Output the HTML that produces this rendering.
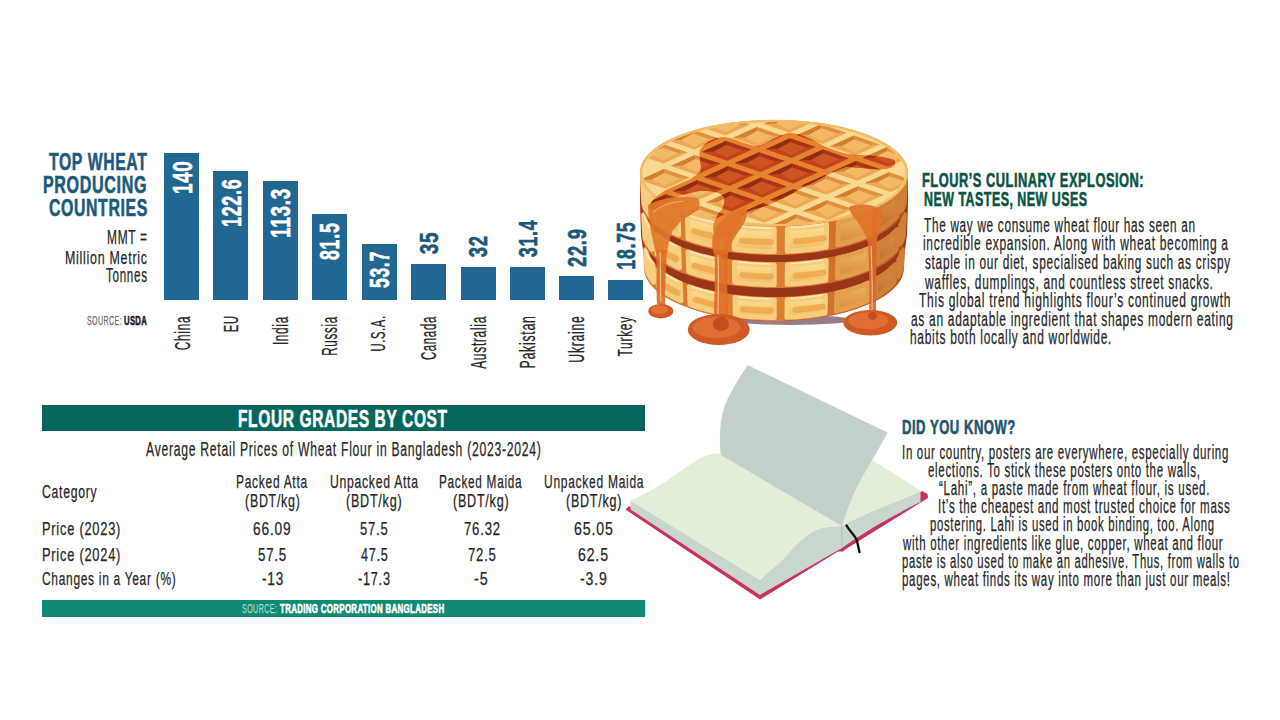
<!DOCTYPE html>
<html><head><meta charset="utf-8"><title>Wheat Flour</title>
<style>
html,body{margin:0;padding:0;background:#fff;}
body{width:1280px;height:720px;position:relative;overflow:hidden;font-family:"Liberation Sans",sans-serif;}
.t{position:absolute;white-space:pre;transform-origin:0 0;}
.bar{position:absolute;width:35px;background:#206892;}
.hdr{position:absolute;left:42px;top:405px;width:602.5px;height:26.3px;background:#05665c;}
.src{position:absolute;left:42px;top:600px;width:602.5px;height:16.7px;background:#108a72;}
svg{position:absolute;left:0;top:0;}
</style></head><body>
<svg width="1280" height="720" viewBox="0 0 1280 720" style="position:absolute;left:0;top:0">
<defs>
<linearGradient id="sideg" x1="640" x2="910" y1="0" y2="0" gradientUnits="userSpaceOnUse">
<stop offset="0" stop-color="#d9792c"/><stop offset="0.5" stop-color="#e0802e"/><stop offset="0.85" stop-color="#c8652a"/><stop offset="1" stop-color="#a84a20"/></linearGradient>
<linearGradient id="lobeg" x1="0" x2="0" y1="0" y2="1">
<stop offset="0" stop-color="#fde3a0"/><stop offset="0.5" stop-color="#f9cf78"/><stop offset="1" stop-color="#f2b85c"/></linearGradient>
<linearGradient id="lobegR" x1="0" x2="0" y1="0" y2="1">
<stop offset="0" stop-color="#f0b862"/><stop offset="1" stop-color="#d7893e"/></linearGradient>
<linearGradient id="lobegRR" x1="0" x2="0" y1="0" y2="1">
<stop offset="0" stop-color="#dc9448"/><stop offset="1" stop-color="#bf6a30"/></linearGradient>
<clipPath id="topclip"><ellipse cx="774" cy="173" rx="131" ry="51"/></clipPath>
</defs>
<ellipse cx="790" cy="320" rx="62" ry="5" fill="#7d5a66" opacity="0.8"/>
<polygon points="640.0,173.0 640.4,168.8 641.6,164.7 643.7,160.6 646.6,156.6 650.2,152.7 654.6,148.9 659.7,145.3 665.6,141.8 672.1,138.6 679.2,135.5 687.0,132.7 695.2,130.1 704.0,127.8 713.2,125.8 722.7,124.0 732.6,122.6 742.7,121.5 753.0,120.7 763.5,120.2 774.0,120.0 784.5,120.2 795.0,120.7 805.3,121.5 815.4,122.6 825.3,124.0 834.8,125.8 844.0,127.8 852.8,130.1 861.0,132.7 868.8,135.5 875.9,138.6 882.4,141.8 888.3,145.3 893.4,148.9 897.8,152.7 901.4,156.6 904.3,160.6 906.4,164.7 907.6,168.8 908.0,173.0 908.0,202.0 907.0,235.0 905.0,250.0 898.9,279.6 897.2,282.3 895.2,285.1 892.8,287.8 890.0,290.4 886.9,293.0 883.5,295.4 879.8,297.8 875.7,300.2 871.4,302.4 866.8,304.5 861.9,306.5 856.7,308.5 851.3,310.2 845.7,311.9 839.8,313.4 833.8,314.9 827.6,316.1 821.3,317.3 814.8,318.2 808.2,319.1 801.4,319.8 794.7,320.3 787.8,320.7 780.9,320.9 774.0,321.0 767.1,320.9 760.2,320.7 753.3,320.3 746.6,319.8 739.8,319.1 733.2,318.2 726.7,317.3 720.4,316.1 714.2,314.9 708.2,313.4 702.3,311.9 696.7,310.2 691.3,308.5 686.1,306.5 681.2,304.5 676.6,302.4 672.3,300.2 668.2,297.8 664.5,295.4 661.1,293.0 658.0,290.4 655.2,287.8 652.8,285.1 650.8,282.3 649.1,279.6 643.0,250.0 641.0,235.0 640.0,202.0" fill="#9a3618"/>
<polygon points="905.0,244.0 904.7,247.3 904.0,250.6 902.7,253.9 900.9,257.2 898.6,260.4 895.8,263.5 892.5,266.6 888.8,269.5 884.6,272.4 880.0,275.2 874.9,277.8 869.5,280.3 863.7,282.6 857.5,284.8 851.0,286.9 844.2,288.7 837.1,290.4 829.8,292.0 822.2,293.3 814.5,294.4 806.6,295.3 798.5,296.1 790.4,296.6 782.2,296.9 774.0,297.0 765.8,296.9 757.6,296.6 749.5,296.1 741.4,295.3 733.5,294.4 725.8,293.3 718.2,292.0 710.9,290.4 703.8,288.7 697.0,286.9 690.5,284.8 684.3,282.6 678.5,280.3 673.1,277.8 668.0,275.2 663.4,272.4 659.2,269.5 655.5,266.6 652.2,263.5 649.4,260.4 647.1,257.2 645.3,253.9 644.0,250.6 643.3,247.3 643.0,244.0 644.0,268.0 644.3,271.3 645.0,274.6 646.3,277.9 648.1,281.2 650.4,284.4 653.1,287.5 656.4,290.6 660.1,293.5 664.2,296.4 668.8,299.2 673.8,301.8 679.2,304.3 685.0,306.6 691.1,308.8 697.6,310.9 704.3,312.7 711.4,314.4 718.6,316.0 726.1,317.3 733.8,318.4 741.7,319.3 749.6,320.1 757.7,320.6 765.8,320.9 774.0,321.0 782.2,320.9 790.3,320.6 798.4,320.1 806.3,319.3 814.2,318.4 821.9,317.3 829.4,316.0 836.6,314.4 843.7,312.7 850.4,310.9 856.9,308.8 863.0,306.6 868.8,304.3 874.2,301.8 879.2,299.2 883.8,296.4 887.9,293.5 891.6,290.6 894.9,287.5 897.6,284.4 899.9,281.2 901.7,277.9 903.0,274.6 903.7,271.3 904.0,268.0" fill="url(#sideg)"/>
<polygon points="902.3,249.6 902.2,250.5 902.1,251.3 901.9,252.1 901.7,253.0 901.4,253.8 901.2,254.6 900.9,255.5 900.5,256.3 900.1,257.1 899.7,257.9 899.3,258.7 898.8,259.5 897.9,277.0 898.3,276.2 898.8,275.4 899.2,274.6 899.5,273.8 899.9,273.0 900.2,272.1 900.4,271.3 900.7,270.5 900.9,269.6 901.1,268.8 901.2,268.0 901.3,267.1" fill="url(#lobegRR)" stroke="#cf8038" stroke-width="5" stroke-linejoin="round"/>
<polygon points="895.2,264.6 894.0,265.9 892.8,267.2 891.5,268.4 890.1,269.7 888.7,270.9 887.1,272.1 885.5,273.3 883.8,274.5 882.1,275.7 880.2,276.8 878.3,277.9 876.4,279.0 875.6,296.5 877.5,295.4 879.4,294.3 881.2,293.2 883.0,292.0 884.7,290.8 886.3,289.6 887.8,288.4 889.2,287.2 890.6,285.9 891.9,284.7 893.1,283.4 894.2,282.1" fill="url(#lobegRR)" stroke="#cf8038" stroke-width="5" stroke-linejoin="round"/>
<polygon points="868.1,283.1 865.8,284.1 863.5,285.0 861.1,286.0 858.6,286.9 856.1,287.8 853.5,288.6 850.8,289.5 848.2,290.3 845.4,291.1 842.6,291.8 839.8,292.5 836.9,293.2 836.4,310.7 839.3,310.0 842.1,309.3 844.9,308.6 847.6,307.8 850.2,307.0 852.9,306.1 855.4,305.3 857.9,304.4 860.4,303.5 862.8,302.5 865.1,301.6 867.4,300.6" fill="url(#lobegR)" stroke="#e0a050" stroke-width="5" stroke-linejoin="round"/>
<polygon points="825.4,295.6 822.4,296.1 819.3,296.6 816.2,297.1 813.0,297.5 809.8,297.9 806.6,298.3 803.4,298.6 800.2,298.9 796.9,299.2 793.6,299.4 790.4,299.6 787.1,299.7 787.0,317.2 790.2,317.1 793.5,316.9 796.7,316.7 800.0,316.4 803.2,316.1 806.4,315.8 809.6,315.4 812.7,315.0 815.8,314.6 818.9,314.1 822.0,313.6 825.0,313.1" fill="url(#lobeg)" stroke="#f6cd80" stroke-width="5" stroke-linejoin="round"/>
<polyline points="821.9,295.2 818.1,295.8 814.3,296.3 810.5,296.8 806.6,297.3 802.7,297.7 798.8,298.0 794.9,298.3 790.9,298.5" fill="none" stroke="#fff0c4" stroke-width="1.6" stroke-linecap="round" opacity="0.75"/>
<polyline points="822.7,306.6 818.2,307.3 813.8,307.9 809.3,308.5 804.7,309.0 800.1,309.4 795.4,309.8" fill="none" stroke="#eba048" stroke-width="6" stroke-linecap="round" opacity="0.7"/>
<polygon points="774.2,300.0 770.9,300.0 767.6,299.9 764.3,299.8 761.0,299.7 757.7,299.6 754.4,299.4 751.1,299.2 747.9,298.9 744.6,298.6 741.4,298.3 738.2,297.9 735.0,297.5 735.3,315.0 738.5,315.4 741.6,315.8 744.8,316.1 748.1,316.4 751.3,316.7 754.5,316.9 757.8,317.1 761.1,317.2 764.4,317.3 767.6,317.4 770.9,317.5 774.2,317.5" fill="url(#lobeg)" stroke="#f6cd80" stroke-width="5" stroke-linejoin="round"/>
<polyline points="770.4,299.0 766.4,298.9 762.4,298.8 758.4,298.6 754.4,298.4 750.4,298.1 746.5,297.8 742.6,297.4 738.7,297.0" fill="none" stroke="#fff0c4" stroke-width="1.6" stroke-linecap="round" opacity="0.75"/>
<polyline points="771.0,310.5 766.3,310.4 761.6,310.3 756.9,310.0 752.2,309.7 747.5,309.4 742.9,308.9" fill="none" stroke="#eba048" stroke-width="6" stroke-linecap="round" opacity="0.7"/>
<polygon points="723.0,295.6 720.0,295.1 717.0,294.5 714.0,293.9 711.1,293.2 708.2,292.5 705.4,291.8 702.6,291.1 699.9,290.3 697.2,289.5 694.6,288.7 692.0,287.8 689.4,286.9 690.1,304.4 692.6,305.3 695.2,306.2 697.8,307.0 700.5,307.8 703.2,308.6 705.9,309.3 708.7,310.0 711.6,310.7 714.5,311.4 717.4,312.0 720.4,312.6 723.4,313.1" fill="url(#lobeg)" stroke="#f6cd80" stroke-width="5" stroke-linejoin="round"/>
<polyline points="719.5,294.0 715.9,293.3 712.3,292.5 708.8,291.7 705.4,290.8 702.0,289.9 698.7,289.0 695.5,288.0 692.4,286.9" fill="none" stroke="#fff0c4" stroke-width="1.6" stroke-linecap="round" opacity="0.75"/>
<polyline points="719.8,305.6 715.6,304.8 711.4,303.8 707.3,302.9 703.3,301.8 699.4,300.7 695.6,299.6" fill="none" stroke="#eba048" stroke-width="6" stroke-linecap="round" opacity="0.7"/>
<polygon points="680.2,283.2 678.0,282.2 675.8,281.2 673.7,280.1 671.6,279.0 669.7,277.9 667.8,276.8 665.9,275.7 664.2,274.5 662.5,273.3 660.9,272.1 659.3,270.9 657.9,269.7 658.8,287.2 660.2,288.4 661.8,289.6 663.4,290.8 665.0,292.0 666.8,293.2 668.6,294.3 670.5,295.4 672.4,296.5 674.5,297.6 676.6,298.7 678.7,299.7 680.9,300.7" fill="url(#lobeg)" stroke="#f6cd80" stroke-width="5" stroke-linejoin="round"/>
<polyline points="677.6,281.1 675.0,279.8 672.5,278.5 670.1,277.2 667.8,275.8 665.6,274.4 663.5,273.0 661.5,271.6 659.6,270.1" fill="none" stroke="#fff0c4" stroke-width="1.6" stroke-linecap="round" opacity="0.75"/>
<polyline points="677.7,292.7 674.6,291.3 671.6,289.8 668.8,288.2 666.2,286.6 663.6,284.9 661.3,283.3" fill="none" stroke="#eba048" stroke-width="6" stroke-linecap="round" opacity="0.7"/>
<polygon points="653.0,264.8 652.0,263.6 651.0,262.3 650.1,261.1 649.3,259.9 648.6,258.6 648.0,257.3 647.4,256.1 646.9,254.8 646.5,253.5 646.1,252.2 645.9,250.9 645.7,249.6 646.7,267.1 646.9,268.4 647.1,269.7 647.5,271.0 647.9,272.3 648.4,273.6 648.9,274.8 649.6,276.1 650.3,277.4 651.1,278.6 652.0,279.8 652.9,281.1 653.9,282.3" fill="url(#lobeg)" stroke="#f6cd80" stroke-width="5" stroke-linejoin="round"/>
<polyline points="651.7,262.3 650.6,260.8 649.6,259.3 648.7,257.8 648.0,256.3 647.3,254.8 646.7,253.3 646.3,251.8 645.9,250.2" fill="none" stroke="#fff0c4" stroke-width="1.6" stroke-linecap="round" opacity="0.75"/>
<polygon points="907.0,209.0 906.7,212.3 906.0,215.6 904.6,218.9 902.8,222.2 900.5,225.4 897.7,228.5 894.3,231.6 890.5,234.5 886.3,237.4 881.6,240.2 876.5,242.8 871.0,245.3 865.0,247.6 858.8,249.8 852.2,251.9 845.3,253.7 838.1,255.4 830.6,257.0 823.0,258.3 815.1,259.4 807.1,260.3 798.9,261.1 790.7,261.6 782.4,261.9 774.0,262.0 765.6,261.9 757.3,261.6 749.1,261.1 740.9,260.3 732.9,259.4 725.0,258.3 717.4,257.0 709.9,255.4 702.7,253.7 695.8,251.9 689.2,249.8 683.0,247.6 677.0,245.3 671.5,242.8 666.4,240.2 661.7,237.4 657.5,234.5 653.7,231.6 650.3,228.5 647.5,225.4 645.2,222.2 643.4,218.9 642.0,215.6 641.3,212.3 641.0,209.0 642.0,235.0 642.3,238.3 643.0,241.6 644.3,244.9 646.1,248.2 648.5,251.4 651.3,254.5 654.6,257.6 658.3,260.5 662.5,263.4 667.2,266.2 672.3,268.8 677.8,271.3 683.6,273.6 689.9,275.8 696.4,277.9 703.3,279.7 710.4,281.4 717.8,283.0 725.4,284.3 733.2,285.4 741.2,286.3 749.3,287.1 757.5,287.6 765.7,287.9 774.0,288.0 782.3,287.9 790.5,287.6 798.7,287.1 806.8,286.3 814.8,285.4 822.6,284.3 830.2,283.0 837.6,281.4 844.7,279.7 851.6,277.9 858.1,275.8 864.4,273.6 870.2,271.3 875.7,268.8 880.8,266.2 885.5,263.4 889.7,260.5 893.4,257.6 896.7,254.5 899.5,251.4 901.9,248.2 903.7,244.9 905.0,241.6 905.7,238.3 906.0,235.0" fill="url(#sideg)"/>
<polygon points="904.3,214.6 904.2,215.5 904.1,216.3 903.9,217.1 903.7,218.0 903.4,218.8 903.1,219.6 902.8,220.5 902.5,221.3 902.1,222.1 901.7,222.9 901.3,223.7 900.8,224.5 899.8,244.0 900.3,243.2 900.7,242.4 901.1,241.6 901.5,240.8 901.8,240.0 902.2,239.1 902.4,238.3 902.7,237.5 902.9,236.6 903.1,235.8 903.2,235.0 903.3,234.1" fill="url(#lobegRR)" stroke="#cf8038" stroke-width="5" stroke-linejoin="round"/>
<polygon points="897.1,229.6 895.9,230.9 894.7,232.2 893.3,233.4 891.9,234.7 890.5,235.9 888.9,237.1 887.3,238.3 885.5,239.5 883.8,240.7 881.9,241.8 880.0,242.9 878.0,244.0 877.2,263.5 879.2,262.4 881.1,261.3 882.9,260.2 884.7,259.0 886.4,257.8 888.0,256.6 889.6,255.4 891.0,254.2 892.4,252.9 893.7,251.7 895.0,250.4 896.1,249.1" fill="url(#lobegRR)" stroke="#cf8038" stroke-width="5" stroke-linejoin="round"/>
<polygon points="869.6,248.1 867.2,249.1 864.9,250.0 862.4,251.0 859.9,251.9 857.3,252.8 854.7,253.6 852.0,254.5 849.3,255.3 846.5,256.1 843.7,256.8 840.8,257.5 837.9,258.2 837.4,277.7 840.3,277.0 843.2,276.3 846.0,275.6 848.7,274.8 851.4,274.0 854.1,273.1 856.7,272.3 859.2,271.4 861.7,270.5 864.2,269.5 866.5,268.6 868.8,267.6" fill="url(#lobegR)" stroke="#e0a050" stroke-width="5" stroke-linejoin="round"/>
<polygon points="826.2,260.6 823.1,261.1 820.0,261.6 816.8,262.1 813.6,262.5 810.4,262.9 807.1,263.3 803.9,263.6 800.6,263.9 797.3,264.2 793.9,264.4 790.6,264.6 787.3,264.7 787.2,284.2 790.5,284.1 793.8,283.9 797.1,283.7 800.4,283.4 803.6,283.1 806.9,282.8 810.1,282.4 813.3,282.0 816.5,281.6 819.6,281.1 822.8,280.6 825.8,280.1" fill="url(#lobeg)" stroke="#f6cd80" stroke-width="5" stroke-linejoin="round"/>
<polyline points="822.6,260.2 818.8,260.8 815.0,261.3 811.1,261.8 807.1,262.3 803.2,262.7 799.2,263.0 795.2,263.3 791.1,263.5" fill="none" stroke="#fff0c4" stroke-width="1.6" stroke-linecap="round" opacity="0.75"/>
<polyline points="823.4,272.6 818.9,273.3 814.4,273.9 809.8,274.5 805.2,275.0 800.5,275.4 795.7,275.8" fill="none" stroke="#eba048" stroke-width="6" stroke-linecap="round" opacity="0.7"/>
<polygon points="774.2,265.0 770.9,265.0 767.5,264.9 764.1,264.8 760.8,264.7 757.4,264.6 754.1,264.4 750.8,264.2 747.5,263.9 744.2,263.6 740.9,263.3 737.6,262.9 734.4,262.5 734.7,282.0 737.9,282.4 741.1,282.8 744.4,283.1 747.7,283.4 750.9,283.7 754.2,283.9 757.6,284.1 760.9,284.2 764.2,284.3 767.5,284.4 770.9,284.5 774.2,284.5" fill="url(#lobeg)" stroke="#f6cd80" stroke-width="5" stroke-linejoin="round"/>
<polyline points="770.3,264.0 766.2,263.9 762.2,263.8 758.1,263.6 754.1,263.4 750.1,263.1 746.1,262.8 742.1,262.4 738.2,262.0" fill="none" stroke="#fff0c4" stroke-width="1.6" stroke-linecap="round" opacity="0.75"/>
<polyline points="771.0,276.5 766.2,276.4 761.4,276.3 756.6,276.0 751.9,275.7 747.1,275.4 742.5,274.9" fill="none" stroke="#eba048" stroke-width="6" stroke-linecap="round" opacity="0.7"/>
<polygon points="722.2,260.6 719.1,260.1 716.1,259.5 713.1,258.9 710.1,258.2 707.2,257.5 704.3,256.8 701.5,256.1 698.7,255.3 696.0,254.5 693.3,253.7 690.7,252.8 688.1,251.9 688.8,271.4 691.3,272.3 693.9,273.2 696.6,274.0 699.3,274.8 702.1,275.6 704.9,276.3 707.7,277.0 710.6,277.7 713.5,278.4 716.5,279.0 719.5,279.6 722.6,280.1" fill="url(#lobeg)" stroke="#f6cd80" stroke-width="5" stroke-linejoin="round"/>
<polyline points="718.6,259.0 715.0,258.3 711.4,257.5 707.8,256.7 704.3,255.8 700.9,254.9 697.6,254.0 694.3,253.0 691.1,251.9" fill="none" stroke="#fff0c4" stroke-width="1.6" stroke-linecap="round" opacity="0.75"/>
<polyline points="719.0,271.6 714.7,270.8 710.4,269.8 706.3,268.9 702.2,267.8 698.3,266.7 694.4,265.6" fill="none" stroke="#eba048" stroke-width="6" stroke-linecap="round" opacity="0.7"/>
<polygon points="678.7,248.2 676.5,247.2 674.3,246.2 672.1,245.1 670.1,244.0 668.0,242.9 666.1,241.8 664.3,240.7 662.5,239.5 660.8,238.3 659.1,237.1 657.6,235.9 656.1,234.7 657.0,254.2 658.4,255.4 660.0,256.6 661.6,257.8 663.3,259.0 665.1,260.2 666.9,261.3 668.9,262.4 670.8,263.5 672.9,264.6 675.0,265.7 677.2,266.7 679.5,267.7" fill="url(#lobeg)" stroke="#f6cd80" stroke-width="5" stroke-linejoin="round"/>
<polyline points="676.1,246.1 673.5,244.8 670.9,243.5 668.5,242.2 666.1,240.8 663.9,239.4 661.7,238.0 659.7,236.6 657.8,235.1" fill="none" stroke="#fff0c4" stroke-width="1.6" stroke-linecap="round" opacity="0.75"/>
<polyline points="676.2,258.7 673.0,257.3 670.1,255.8 667.2,254.2 664.5,252.6 661.9,250.9 659.5,249.3" fill="none" stroke="#eba048" stroke-width="6" stroke-linecap="round" opacity="0.7"/>
<polygon points="651.1,229.8 650.1,228.6 649.1,227.3 648.2,226.1 647.4,224.9 646.7,223.6 646.0,222.3 645.4,221.1 644.9,219.8 644.5,218.5 644.1,217.2 643.9,215.9 643.7,214.6 644.7,234.1 644.9,235.4 645.1,236.7 645.5,238.0 645.9,239.3 646.4,240.6 647.0,241.8 647.6,243.1 648.4,244.4 649.2,245.6 650.1,246.8 651.0,248.1 652.0,249.3" fill="url(#lobeg)" stroke="#f6cd80" stroke-width="5" stroke-linejoin="round"/>
<polyline points="649.8,227.3 648.7,225.8 647.7,224.3 646.8,222.8 646.0,221.3 645.3,219.8 644.7,218.3 644.3,216.8 643.9,215.2" fill="none" stroke="#fff0c4" stroke-width="1.6" stroke-linecap="round" opacity="0.75"/>
<polygon points="908.0,173.0 907.7,176.3 906.9,179.6 905.6,182.9 903.8,186.2 901.4,189.4 898.6,192.5 895.2,195.6 891.4,198.5 887.1,201.4 882.4,204.2 877.2,206.8 871.7,209.3 865.7,211.6 859.4,213.8 852.8,215.9 845.8,217.7 838.6,219.4 831.1,221.0 823.3,222.3 815.4,223.4 807.3,224.3 799.1,225.1 790.8,225.6 782.4,225.9 774.0,226.0 765.6,225.9 757.2,225.6 748.9,225.1 740.7,224.3 732.6,223.4 724.7,222.3 716.9,221.0 709.4,219.4 702.2,217.7 695.2,215.9 688.6,213.8 682.3,211.6 676.3,209.3 670.8,206.8 665.6,204.2 660.9,201.4 656.6,198.5 652.8,195.6 649.4,192.5 646.6,189.4 644.2,186.2 642.4,182.9 641.1,179.6 640.3,176.3 640.0,173.0 641.0,202.0 641.3,205.3 642.0,208.6 643.4,211.9 645.2,215.2 647.5,218.4 650.3,221.5 653.7,224.6 657.5,227.5 661.7,230.4 666.4,233.2 671.5,235.8 677.0,238.3 683.0,240.6 689.2,242.8 695.8,244.9 702.7,246.7 709.9,248.4 717.4,250.0 725.0,251.3 732.9,252.4 740.9,253.3 749.1,254.1 757.3,254.6 765.6,254.9 774.0,255.0 782.4,254.9 790.7,254.6 798.9,254.1 807.1,253.3 815.1,252.4 823.0,251.3 830.6,250.0 838.1,248.4 845.3,246.7 852.2,244.9 858.8,242.8 865.0,240.6 871.0,238.3 876.5,235.8 881.6,233.2 886.3,230.4 890.5,227.5 894.3,224.6 897.7,221.5 900.5,218.4 902.8,215.2 904.6,211.9 906.0,208.6 906.7,205.3 907.0,202.0" fill="url(#sideg)"/>
<polygon points="905.3,178.6 905.2,179.5 905.1,180.3 904.9,181.1 904.7,182.0 904.4,182.8 904.1,183.6 903.8,184.5 903.5,185.3 903.1,186.1 902.7,186.9 902.2,187.7 901.8,188.5 900.8,211.0 901.3,210.2 901.7,209.4 902.1,208.6 902.5,207.8 902.8,207.0 903.1,206.1 903.4,205.3 903.7,204.5 903.9,203.6 904.1,202.8 904.2,202.0 904.3,201.1" fill="url(#lobegRR)" stroke="#cf8038" stroke-width="5" stroke-linejoin="round"/>
<polygon points="898.0,193.6 896.8,194.9 895.6,196.2 894.3,197.4 892.8,198.7 891.4,199.9 889.8,201.1 888.1,202.3 886.4,203.5 884.6,204.7 882.7,205.8 880.8,206.9 878.8,208.0 878.0,230.5 880.0,229.4 881.9,228.3 883.8,227.2 885.5,226.0 887.3,224.8 888.9,223.6 890.5,222.4 891.9,221.2 893.3,219.9 894.7,218.7 895.9,217.4 897.1,216.1" fill="url(#lobegRR)" stroke="#cf8038" stroke-width="5" stroke-linejoin="round"/>
<polygon points="870.3,212.1 868.0,213.1 865.6,214.0 863.1,215.0 860.6,215.9 858.0,216.8 855.3,217.6 852.6,218.5 849.9,219.3 847.1,220.1 844.2,220.8 841.3,221.5 838.4,222.2 837.9,244.7 840.8,244.0 843.7,243.3 846.5,242.6 849.3,241.8 852.0,241.0 854.7,240.1 857.3,239.3 859.9,238.4 862.4,237.5 864.9,236.5 867.2,235.6 869.6,234.6" fill="url(#lobegR)" stroke="#e0a050" stroke-width="5" stroke-linejoin="round"/>
<polygon points="826.6,224.6 823.5,225.1 820.3,225.6 817.1,226.1 813.9,226.5 810.7,226.9 807.4,227.3 804.1,227.6 800.8,227.9 797.5,228.2 794.1,228.4 790.7,228.6 787.4,228.7 787.3,251.2 790.6,251.1 793.9,250.9 797.3,250.7 800.6,250.4 803.9,250.1 807.1,249.8 810.4,249.4 813.6,249.0 816.8,248.6 820.0,248.1 823.1,247.6 826.2,247.1" fill="url(#lobeg)" stroke="#f6cd80" stroke-width="5" stroke-linejoin="round"/>
<polyline points="823.0,224.2 819.2,224.8 815.3,225.3 811.4,225.8 807.4,226.3 803.4,226.7 799.4,227.0 795.3,227.3 791.3,227.5" fill="none" stroke="#fff0c4" stroke-width="1.6" stroke-linecap="round" opacity="0.75"/>
<polyline points="823.8,238.1 819.3,238.8 814.7,239.4 810.1,240.0 805.4,240.5 800.7,240.9 795.9,241.3" fill="none" stroke="#eba048" stroke-width="6" stroke-linecap="round" opacity="0.7"/>
<polygon points="774.2,229.0 770.8,229.0 767.4,228.9 764.1,228.8 760.7,228.7 757.3,228.6 753.9,228.4 750.6,228.2 747.2,227.9 743.9,227.6 740.6,227.3 737.4,226.9 734.1,226.5 734.4,249.0 737.6,249.4 740.9,249.8 744.2,250.1 747.5,250.4 750.8,250.7 754.1,250.9 757.4,251.1 760.8,251.2 764.1,251.3 767.5,251.4 770.9,251.5 774.2,251.5" fill="url(#lobeg)" stroke="#f6cd80" stroke-width="5" stroke-linejoin="round"/>
<polyline points="770.3,228.0 766.2,227.9 762.1,227.8 758.0,227.6 753.9,227.4 749.9,227.1 745.9,226.8 741.9,226.4 737.9,226.0" fill="none" stroke="#fff0c4" stroke-width="1.6" stroke-linecap="round" opacity="0.75"/>
<polyline points="770.9,242.0 766.1,241.9 761.3,241.8 756.5,241.5 751.7,241.2 746.9,240.9 742.2,240.4" fill="none" stroke="#eba048" stroke-width="6" stroke-linecap="round" opacity="0.7"/>
<polygon points="721.8,224.6 718.7,224.1 715.6,223.5 712.6,222.9 709.6,222.2 706.7,221.5 703.8,220.8 700.9,220.1 698.1,219.3 695.4,218.5 692.7,217.7 690.1,216.8 687.5,215.9 688.1,238.4 690.7,239.3 693.3,240.2 696.0,241.0 698.7,241.8 701.5,242.6 704.3,243.3 707.2,244.0 710.1,244.7 713.1,245.4 716.1,246.0 719.1,246.6 722.2,247.1" fill="url(#lobeg)" stroke="#f6cd80" stroke-width="5" stroke-linejoin="round"/>
<polyline points="718.2,223.0 714.5,222.3 710.9,221.5 707.3,220.7 703.8,219.8 700.4,218.9 697.0,218.0 693.7,217.0 690.5,215.9" fill="none" stroke="#fff0c4" stroke-width="1.6" stroke-linecap="round" opacity="0.75"/>
<polyline points="718.6,237.1 714.2,236.3 710.0,235.3 705.8,234.4 701.7,233.3 697.7,232.2 693.8,231.1" fill="none" stroke="#eba048" stroke-width="6" stroke-linecap="round" opacity="0.7"/>
<polygon points="678.0,212.2 675.7,211.2 673.5,210.2 671.3,209.1 669.3,208.0 667.2,206.9 665.3,205.8 663.4,204.7 661.6,203.5 659.9,202.3 658.2,201.1 656.7,199.9 655.2,198.7 656.1,221.2 657.6,222.4 659.1,223.6 660.8,224.8 662.5,226.0 664.3,227.2 666.1,228.3 668.0,229.4 670.1,230.5 672.1,231.6 674.3,232.7 676.5,233.7 678.7,234.7" fill="url(#lobeg)" stroke="#f6cd80" stroke-width="5" stroke-linejoin="round"/>
<polyline points="675.4,210.1 672.7,208.8 670.1,207.5 667.7,206.2 665.3,204.8 663.0,203.4 660.9,202.0 658.8,200.6 656.9,199.1" fill="none" stroke="#fff0c4" stroke-width="1.6" stroke-linecap="round" opacity="0.75"/>
<polyline points="675.4,224.2 672.3,222.8 669.3,221.3 666.4,219.7 663.7,218.1 661.1,216.4 658.6,214.8" fill="none" stroke="#eba048" stroke-width="6" stroke-linecap="round" opacity="0.7"/>
<polygon points="650.1,193.8 649.1,192.6 648.1,191.3 647.2,190.1 646.4,188.9 645.7,187.6 645.0,186.3 644.4,185.1 643.9,183.8 643.5,182.5 643.1,181.2 642.9,179.9 642.7,178.6 643.7,201.1 643.9,202.4 644.1,203.7 644.5,205.0 644.9,206.3 645.4,207.6 646.0,208.8 646.7,210.1 647.4,211.4 648.2,212.6 649.1,213.8 650.1,215.1 651.1,216.3" fill="url(#lobeg)" stroke="#f6cd80" stroke-width="5" stroke-linejoin="round"/>
<polyline points="648.9,191.3 647.7,189.8 646.7,188.3 645.8,186.8 645.0,185.3 644.3,183.8 643.8,182.3 643.3,180.8 642.9,179.2" fill="none" stroke="#fff0c4" stroke-width="1.6" stroke-linecap="round" opacity="0.75"/>
<ellipse cx="774" cy="173" rx="134" ry="53" fill="#f9d892"/>
<ellipse cx="774" cy="173" rx="133" ry="52" fill="none" stroke="#f1bd68" stroke-width="2.5"/>
<g clip-path="url(#topclip)">
<polygon points="637.7,154.7 663.5,163.5 687.7,152.5 661.9,143.7" fill="#eea853"/>
<polygon points="637.7,154.7 661.9,143.7 662.2,147.7 650.2,154.1" fill="#d1802f"/>
<polygon points="661.9,143.7 687.7,152.5 677.7,153.0 662.2,147.7" fill="#df9140"/>
<polygon points="650.2,154.1 662.2,147.7 677.7,153.0 663.2,160.5" fill="#f3b968"/>
<polygon points="668.7,140.7 694.5,149.5 718.7,138.5 692.9,129.7" fill="#eea853"/>
<polygon points="668.7,140.7 692.9,129.7 693.2,133.7 681.2,140.1" fill="#d1802f"/>
<polygon points="692.9,129.7 718.7,138.5 708.7,139.0 693.2,133.7" fill="#df9140"/>
<polygon points="681.2,140.1 693.2,133.7 708.7,139.0 694.2,146.5" fill="#f3b968"/>
<polygon points="699.7,126.7 725.5,135.5 749.7,124.5 723.9,115.7" fill="#eea853"/>
<polygon points="699.7,126.7 723.9,115.7 724.2,119.7 712.2,126.1" fill="#d1802f"/>
<polygon points="723.9,115.7 749.7,124.5 739.7,125.0 724.2,119.7" fill="#df9140"/>
<polygon points="712.2,126.1 724.2,119.7 739.7,125.0 725.2,132.5" fill="#f3b968"/>
<polygon points="639.7,180.0 665.5,188.8 689.7,177.8 663.9,169.0" fill="#eea853"/>
<polygon points="639.7,180.0 663.9,169.0 664.2,173.0 652.2,179.4" fill="#d1802f"/>
<polygon points="663.9,169.0 689.7,177.8 679.7,178.3 664.2,173.0" fill="#df9140"/>
<polygon points="652.2,179.4 664.2,173.0 679.7,178.3 665.2,185.8" fill="#f3b968"/>
<polygon points="670.7,166.0 696.5,174.8 720.7,163.8 694.9,155.0" fill="#eea853"/>
<polygon points="670.7,166.0 694.9,155.0 695.2,159.0 683.2,165.4" fill="#d1802f"/>
<polygon points="694.9,155.0 720.7,163.8 710.7,164.3 695.2,159.0" fill="#df9140"/>
<polygon points="683.2,165.4 695.2,159.0 710.7,164.3 696.2,171.8" fill="#f3b968"/>
<polygon points="701.7,152.0 727.5,160.8 751.7,149.8 725.9,141.0" fill="#eea853"/>
<polygon points="701.7,152.0 725.9,141.0 726.2,145.0 714.2,151.4" fill="#d1802f"/>
<polygon points="725.9,141.0 751.7,149.8 741.7,150.3 726.2,145.0" fill="#df9140"/>
<polygon points="714.2,151.4 726.2,145.0 741.7,150.3 727.2,157.8" fill="#f3b968"/>
<polygon points="732.7,138.0 758.5,146.8 782.7,135.8 756.9,127.0" fill="#eea853"/>
<polygon points="732.7,138.0 756.9,127.0 757.2,131.0 745.2,137.4" fill="#d1802f"/>
<polygon points="756.9,127.0 782.7,135.8 772.7,136.3 757.2,131.0" fill="#df9140"/>
<polygon points="745.2,137.4 757.2,131.0 772.7,136.3 758.2,143.8" fill="#f3b968"/>
<polygon points="763.7,124.0 789.5,132.8 813.7,121.8 787.9,113.0" fill="#eea853"/>
<polygon points="763.7,124.0 787.9,113.0 788.2,117.0 776.2,123.4" fill="#d1802f"/>
<polygon points="787.9,113.0 813.7,121.8 803.7,122.3 788.2,117.0" fill="#df9140"/>
<polygon points="776.2,123.4 788.2,117.0 803.7,122.3 789.2,129.8" fill="#f3b968"/>
<polygon points="641.7,205.3 667.5,214.1 691.7,203.1 665.9,194.3" fill="#eea853"/>
<polygon points="641.7,205.3 665.9,194.3 666.2,198.3 654.2,204.7" fill="#d1802f"/>
<polygon points="665.9,194.3 691.7,203.1 681.7,203.6 666.2,198.3" fill="#df9140"/>
<polygon points="654.2,204.7 666.2,198.3 681.7,203.6 667.2,211.1" fill="#f3b968"/>
<polygon points="672.7,191.3 698.5,200.1 722.7,189.1 696.9,180.3" fill="#eea853"/>
<polygon points="672.7,191.3 696.9,180.3 697.2,184.3 685.2,190.7" fill="#d1802f"/>
<polygon points="696.9,180.3 722.7,189.1 712.7,189.6 697.2,184.3" fill="#df9140"/>
<polygon points="685.2,190.7 697.2,184.3 712.7,189.6 698.2,197.1" fill="#f3b968"/>
<polygon points="703.7,177.3 729.5,186.1 753.7,175.1 727.9,166.3" fill="#eea853"/>
<polygon points="703.7,177.3 727.9,166.3 728.2,170.3 716.2,176.7" fill="#d1802f"/>
<polygon points="727.9,166.3 753.7,175.1 743.7,175.6 728.2,170.3" fill="#df9140"/>
<polygon points="716.2,176.7 728.2,170.3 743.7,175.6 729.2,183.1" fill="#f3b968"/>
<polygon points="734.7,163.3 760.5,172.1 784.7,161.1 758.9,152.3" fill="#eea853"/>
<polygon points="734.7,163.3 758.9,152.3 759.2,156.3 747.2,162.7" fill="#d1802f"/>
<polygon points="758.9,152.3 784.7,161.1 774.7,161.6 759.2,156.3" fill="#df9140"/>
<polygon points="747.2,162.7 759.2,156.3 774.7,161.6 760.2,169.1" fill="#f3b968"/>
<polygon points="765.7,149.3 791.5,158.1 815.7,147.1 789.9,138.3" fill="#eea853"/>
<polygon points="765.7,149.3 789.9,138.3 790.2,142.3 778.2,148.7" fill="#d1802f"/>
<polygon points="789.9,138.3 815.7,147.1 805.7,147.6 790.2,142.3" fill="#df9140"/>
<polygon points="778.2,148.7 790.2,142.3 805.7,147.6 791.2,155.1" fill="#f3b968"/>
<polygon points="796.7,135.3 822.5,144.1 846.7,133.1 820.9,124.3" fill="#eea853"/>
<polygon points="796.7,135.3 820.9,124.3 821.2,128.3 809.2,134.7" fill="#d1802f"/>
<polygon points="820.9,124.3 846.7,133.1 836.7,133.6 821.2,128.3" fill="#df9140"/>
<polygon points="809.2,134.7 821.2,128.3 836.7,133.6 822.2,141.1" fill="#f3b968"/>
<polygon points="674.7,216.6 700.5,225.4 724.7,214.4 698.9,205.6" fill="#eea853"/>
<polygon points="674.7,216.6 698.9,205.6 699.2,209.6 687.2,216.0" fill="#d1802f"/>
<polygon points="698.9,205.6 724.7,214.4 714.7,214.9 699.2,209.6" fill="#df9140"/>
<polygon points="687.2,216.0 699.2,209.6 714.7,214.9 700.2,222.4" fill="#f3b968"/>
<polygon points="705.7,202.6 731.5,211.4 755.7,200.4 729.9,191.6" fill="#eea853"/>
<polygon points="705.7,202.6 729.9,191.6 730.2,195.6 718.2,202.0" fill="#d1802f"/>
<polygon points="729.9,191.6 755.7,200.4 745.7,200.9 730.2,195.6" fill="#df9140"/>
<polygon points="718.2,202.0 730.2,195.6 745.7,200.9 731.2,208.4" fill="#f3b968"/>
<polygon points="736.7,188.6 762.5,197.4 786.7,186.4 760.9,177.6" fill="#eea853"/>
<polygon points="736.7,188.6 760.9,177.6 761.2,181.6 749.2,188.0" fill="#d1802f"/>
<polygon points="760.9,177.6 786.7,186.4 776.7,186.9 761.2,181.6" fill="#df9140"/>
<polygon points="749.2,188.0 761.2,181.6 776.7,186.9 762.2,194.4" fill="#f3b968"/>
<polygon points="767.7,174.6 793.5,183.4 817.7,172.4 791.9,163.6" fill="#eea853"/>
<polygon points="767.7,174.6 791.9,163.6 792.2,167.6 780.2,174.0" fill="#d1802f"/>
<polygon points="791.9,163.6 817.7,172.4 807.7,172.9 792.2,167.6" fill="#df9140"/>
<polygon points="780.2,174.0 792.2,167.6 807.7,172.9 793.2,180.4" fill="#f3b968"/>
<polygon points="798.7,160.6 824.5,169.4 848.7,158.4 822.9,149.6" fill="#eea853"/>
<polygon points="798.7,160.6 822.9,149.6 823.2,153.6 811.2,160.0" fill="#d1802f"/>
<polygon points="822.9,149.6 848.7,158.4 838.7,158.9 823.2,153.6" fill="#df9140"/>
<polygon points="811.2,160.0 823.2,153.6 838.7,158.9 824.2,166.4" fill="#f3b968"/>
<polygon points="829.7,146.6 855.5,155.4 879.7,144.4 853.9,135.6" fill="#eea853"/>
<polygon points="829.7,146.6 853.9,135.6 854.2,139.6 842.2,146.0" fill="#d1802f"/>
<polygon points="853.9,135.6 879.7,144.4 869.7,144.9 854.2,139.6" fill="#df9140"/>
<polygon points="842.2,146.0 854.2,139.6 869.7,144.9 855.2,152.4" fill="#f3b968"/>
<polygon points="738.7,213.9 764.5,222.7 788.7,211.7 762.9,202.9" fill="#eea853"/>
<polygon points="738.7,213.9 762.9,202.9 763.2,206.9 751.2,213.3" fill="#d1802f"/>
<polygon points="762.9,202.9 788.7,211.7 778.7,212.2 763.2,206.9" fill="#df9140"/>
<polygon points="751.2,213.3 763.2,206.9 778.7,212.2 764.2,219.7" fill="#f3b968"/>
<polygon points="769.7,199.9 795.5,208.7 819.7,197.7 793.9,188.9" fill="#eea853"/>
<polygon points="769.7,199.9 793.9,188.9 794.2,192.9 782.2,199.3" fill="#d1802f"/>
<polygon points="793.9,188.9 819.7,197.7 809.7,198.2 794.2,192.9" fill="#df9140"/>
<polygon points="782.2,199.3 794.2,192.9 809.7,198.2 795.2,205.7" fill="#f3b968"/>
<polygon points="800.7,185.9 826.5,194.7 850.7,183.7 824.9,174.9" fill="#eea853"/>
<polygon points="800.7,185.9 824.9,174.9 825.2,178.9 813.2,185.3" fill="#d1802f"/>
<polygon points="824.9,174.9 850.7,183.7 840.7,184.2 825.2,178.9" fill="#df9140"/>
<polygon points="813.2,185.3 825.2,178.9 840.7,184.2 826.2,191.7" fill="#f3b968"/>
<polygon points="831.7,171.9 857.5,180.7 881.7,169.7 855.9,160.9" fill="#eea853"/>
<polygon points="831.7,171.9 855.9,160.9 856.2,164.9 844.2,171.3" fill="#d1802f"/>
<polygon points="855.9,160.9 881.7,169.7 871.7,170.2 856.2,164.9" fill="#df9140"/>
<polygon points="844.2,171.3 856.2,164.9 871.7,170.2 857.2,177.7" fill="#f3b968"/>
<polygon points="862.7,157.9 888.5,166.7 912.7,155.7 886.9,146.9" fill="#eea853"/>
<polygon points="862.7,157.9 886.9,146.9 887.2,150.9 875.2,157.3" fill="#d1802f"/>
<polygon points="886.9,146.9 912.7,155.7 902.7,156.2 887.2,150.9" fill="#df9140"/>
<polygon points="875.2,157.3 887.2,150.9 902.7,156.2 888.2,163.7" fill="#f3b968"/>
<polygon points="771.7,225.2 797.5,234.0 821.7,223.0 795.9,214.2" fill="#eea853"/>
<polygon points="771.7,225.2 795.9,214.2 796.2,218.2 784.2,224.6" fill="#d1802f"/>
<polygon points="795.9,214.2 821.7,223.0 811.7,223.5 796.2,218.2" fill="#df9140"/>
<polygon points="784.2,224.6 796.2,218.2 811.7,223.5 797.2,231.0" fill="#f3b968"/>
<polygon points="802.7,211.2 828.5,220.0 852.7,209.0 826.9,200.2" fill="#eea853"/>
<polygon points="802.7,211.2 826.9,200.2 827.2,204.2 815.2,210.6" fill="#d1802f"/>
<polygon points="826.9,200.2 852.7,209.0 842.7,209.5 827.2,204.2" fill="#df9140"/>
<polygon points="815.2,210.6 827.2,204.2 842.7,209.5 828.2,217.0" fill="#f3b968"/>
<polygon points="833.7,197.2 859.5,206.0 883.7,195.0 857.9,186.2" fill="#eea853"/>
<polygon points="833.7,197.2 857.9,186.2 858.2,190.2 846.2,196.6" fill="#d1802f"/>
<polygon points="857.9,186.2 883.7,195.0 873.7,195.5 858.2,190.2" fill="#df9140"/>
<polygon points="846.2,196.6 858.2,190.2 873.7,195.5 859.2,203.0" fill="#f3b968"/>
<polygon points="864.7,183.2 890.5,192.0 914.7,181.0 888.9,172.2" fill="#eea853"/>
<polygon points="864.7,183.2 888.9,172.2 889.2,176.2 877.2,182.6" fill="#d1802f"/>
<polygon points="888.9,172.2 914.7,181.0 904.7,181.5 889.2,176.2" fill="#df9140"/>
<polygon points="877.2,182.6 889.2,176.2 904.7,181.5 890.2,189.0" fill="#f3b968"/>
</g>
<defs>
<clipPath id="syclip"><path d="M700,150 C705,142 715,137 724,137 C735,138 748,146 758,146 C768,144 778,134 790,133 C803,133 815,142 826,147 C836,151 845,154 856,155 C870,155 885,157 894,160 C897,164 895,168 886,169 C872,170 858,167 846,167 C836,170 826,176 812,183 C798,190 785,197 773,203 C762,208 752,209 746,212 C741,218 738,226 734,234 C729,240 718,240 714,233 C711,226 716,216 722,209 C726,202 726,196 718,193 C708,190 700,190 690,193 C678,196 668,200 661,207 C657,212 653,214 650,210 C648,203 656,196 666,190 C678,184 692,180 700,172 C703,165 698,157 700,150 Z"/></clipPath>
</defs>
<path d="M700,150 C705,142 715,137 724,137 C735,138 748,146 758,146 C768,144 778,134 790,133 C803,133 815,142 826,147 C836,151 845,154 856,155 C870,155 885,157 894,160 C897,164 895,168 886,169 C872,170 858,167 846,167 C836,170 826,176 812,183 C798,190 785,197 773,203 C762,208 752,209 746,212 C741,218 738,226 734,234 C729,240 718,240 714,233 C711,226 716,216 722,209 C726,202 726,196 718,193 C708,190 700,190 690,193 C678,196 668,200 661,207 C657,212 653,214 650,210 C648,203 656,196 666,190 C678,184 692,180 700,172 C703,165 698,157 700,150 Z" fill="#e5832f"/>
<g clip-path="url(#syclip)">
<polygon points="637.7,154.7 663.5,163.5 687.7,152.5 661.9,143.7" fill="#c2431c"/>
<polygon points="637.7,154.7 661.9,143.7 662.2,147.7 650.2,154.1" fill="#8f2c12"/>
<polygon points="661.9,143.7 687.7,152.5 677.7,153.0 662.2,147.7" fill="#a83616"/>
<polygon points="650.2,154.1 662.2,147.7 677.7,153.0 663.2,160.5" fill="#cf5424"/>
<polygon points="668.7,140.7 694.5,149.5 718.7,138.5 692.9,129.7" fill="#c2431c"/>
<polygon points="668.7,140.7 692.9,129.7 693.2,133.7 681.2,140.1" fill="#8f2c12"/>
<polygon points="692.9,129.7 718.7,138.5 708.7,139.0 693.2,133.7" fill="#a83616"/>
<polygon points="681.2,140.1 693.2,133.7 708.7,139.0 694.2,146.5" fill="#cf5424"/>
<polygon points="699.7,126.7 725.5,135.5 749.7,124.5 723.9,115.7" fill="#c2431c"/>
<polygon points="699.7,126.7 723.9,115.7 724.2,119.7 712.2,126.1" fill="#8f2c12"/>
<polygon points="723.9,115.7 749.7,124.5 739.7,125.0 724.2,119.7" fill="#a83616"/>
<polygon points="712.2,126.1 724.2,119.7 739.7,125.0 725.2,132.5" fill="#cf5424"/>
<polygon points="639.7,180.0 665.5,188.8 689.7,177.8 663.9,169.0" fill="#c2431c"/>
<polygon points="639.7,180.0 663.9,169.0 664.2,173.0 652.2,179.4" fill="#8f2c12"/>
<polygon points="663.9,169.0 689.7,177.8 679.7,178.3 664.2,173.0" fill="#a83616"/>
<polygon points="652.2,179.4 664.2,173.0 679.7,178.3 665.2,185.8" fill="#cf5424"/>
<polygon points="670.7,166.0 696.5,174.8 720.7,163.8 694.9,155.0" fill="#c2431c"/>
<polygon points="670.7,166.0 694.9,155.0 695.2,159.0 683.2,165.4" fill="#8f2c12"/>
<polygon points="694.9,155.0 720.7,163.8 710.7,164.3 695.2,159.0" fill="#a83616"/>
<polygon points="683.2,165.4 695.2,159.0 710.7,164.3 696.2,171.8" fill="#cf5424"/>
<polygon points="701.7,152.0 727.5,160.8 751.7,149.8 725.9,141.0" fill="#c2431c"/>
<polygon points="701.7,152.0 725.9,141.0 726.2,145.0 714.2,151.4" fill="#8f2c12"/>
<polygon points="725.9,141.0 751.7,149.8 741.7,150.3 726.2,145.0" fill="#a83616"/>
<polygon points="714.2,151.4 726.2,145.0 741.7,150.3 727.2,157.8" fill="#cf5424"/>
<polygon points="732.7,138.0 758.5,146.8 782.7,135.8 756.9,127.0" fill="#c2431c"/>
<polygon points="732.7,138.0 756.9,127.0 757.2,131.0 745.2,137.4" fill="#8f2c12"/>
<polygon points="756.9,127.0 782.7,135.8 772.7,136.3 757.2,131.0" fill="#a83616"/>
<polygon points="745.2,137.4 757.2,131.0 772.7,136.3 758.2,143.8" fill="#cf5424"/>
<polygon points="763.7,124.0 789.5,132.8 813.7,121.8 787.9,113.0" fill="#c2431c"/>
<polygon points="763.7,124.0 787.9,113.0 788.2,117.0 776.2,123.4" fill="#8f2c12"/>
<polygon points="787.9,113.0 813.7,121.8 803.7,122.3 788.2,117.0" fill="#a83616"/>
<polygon points="776.2,123.4 788.2,117.0 803.7,122.3 789.2,129.8" fill="#cf5424"/>
<polygon points="641.7,205.3 667.5,214.1 691.7,203.1 665.9,194.3" fill="#c2431c"/>
<polygon points="641.7,205.3 665.9,194.3 666.2,198.3 654.2,204.7" fill="#8f2c12"/>
<polygon points="665.9,194.3 691.7,203.1 681.7,203.6 666.2,198.3" fill="#a83616"/>
<polygon points="654.2,204.7 666.2,198.3 681.7,203.6 667.2,211.1" fill="#cf5424"/>
<polygon points="672.7,191.3 698.5,200.1 722.7,189.1 696.9,180.3" fill="#c2431c"/>
<polygon points="672.7,191.3 696.9,180.3 697.2,184.3 685.2,190.7" fill="#8f2c12"/>
<polygon points="696.9,180.3 722.7,189.1 712.7,189.6 697.2,184.3" fill="#a83616"/>
<polygon points="685.2,190.7 697.2,184.3 712.7,189.6 698.2,197.1" fill="#cf5424"/>
<polygon points="703.7,177.3 729.5,186.1 753.7,175.1 727.9,166.3" fill="#c2431c"/>
<polygon points="703.7,177.3 727.9,166.3 728.2,170.3 716.2,176.7" fill="#8f2c12"/>
<polygon points="727.9,166.3 753.7,175.1 743.7,175.6 728.2,170.3" fill="#a83616"/>
<polygon points="716.2,176.7 728.2,170.3 743.7,175.6 729.2,183.1" fill="#cf5424"/>
<polygon points="734.7,163.3 760.5,172.1 784.7,161.1 758.9,152.3" fill="#c2431c"/>
<polygon points="734.7,163.3 758.9,152.3 759.2,156.3 747.2,162.7" fill="#8f2c12"/>
<polygon points="758.9,152.3 784.7,161.1 774.7,161.6 759.2,156.3" fill="#a83616"/>
<polygon points="747.2,162.7 759.2,156.3 774.7,161.6 760.2,169.1" fill="#cf5424"/>
<polygon points="765.7,149.3 791.5,158.1 815.7,147.1 789.9,138.3" fill="#c2431c"/>
<polygon points="765.7,149.3 789.9,138.3 790.2,142.3 778.2,148.7" fill="#8f2c12"/>
<polygon points="789.9,138.3 815.7,147.1 805.7,147.6 790.2,142.3" fill="#a83616"/>
<polygon points="778.2,148.7 790.2,142.3 805.7,147.6 791.2,155.1" fill="#cf5424"/>
<polygon points="796.7,135.3 822.5,144.1 846.7,133.1 820.9,124.3" fill="#c2431c"/>
<polygon points="796.7,135.3 820.9,124.3 821.2,128.3 809.2,134.7" fill="#8f2c12"/>
<polygon points="820.9,124.3 846.7,133.1 836.7,133.6 821.2,128.3" fill="#a83616"/>
<polygon points="809.2,134.7 821.2,128.3 836.7,133.6 822.2,141.1" fill="#cf5424"/>
<polygon points="674.7,216.6 700.5,225.4 724.7,214.4 698.9,205.6" fill="#c2431c"/>
<polygon points="674.7,216.6 698.9,205.6 699.2,209.6 687.2,216.0" fill="#8f2c12"/>
<polygon points="698.9,205.6 724.7,214.4 714.7,214.9 699.2,209.6" fill="#a83616"/>
<polygon points="687.2,216.0 699.2,209.6 714.7,214.9 700.2,222.4" fill="#cf5424"/>
<polygon points="705.7,202.6 731.5,211.4 755.7,200.4 729.9,191.6" fill="#c2431c"/>
<polygon points="705.7,202.6 729.9,191.6 730.2,195.6 718.2,202.0" fill="#8f2c12"/>
<polygon points="729.9,191.6 755.7,200.4 745.7,200.9 730.2,195.6" fill="#a83616"/>
<polygon points="718.2,202.0 730.2,195.6 745.7,200.9 731.2,208.4" fill="#cf5424"/>
<polygon points="736.7,188.6 762.5,197.4 786.7,186.4 760.9,177.6" fill="#c2431c"/>
<polygon points="736.7,188.6 760.9,177.6 761.2,181.6 749.2,188.0" fill="#8f2c12"/>
<polygon points="760.9,177.6 786.7,186.4 776.7,186.9 761.2,181.6" fill="#a83616"/>
<polygon points="749.2,188.0 761.2,181.6 776.7,186.9 762.2,194.4" fill="#cf5424"/>
<polygon points="767.7,174.6 793.5,183.4 817.7,172.4 791.9,163.6" fill="#c2431c"/>
<polygon points="767.7,174.6 791.9,163.6 792.2,167.6 780.2,174.0" fill="#8f2c12"/>
<polygon points="791.9,163.6 817.7,172.4 807.7,172.9 792.2,167.6" fill="#a83616"/>
<polygon points="780.2,174.0 792.2,167.6 807.7,172.9 793.2,180.4" fill="#cf5424"/>
<polygon points="798.7,160.6 824.5,169.4 848.7,158.4 822.9,149.6" fill="#c2431c"/>
<polygon points="798.7,160.6 822.9,149.6 823.2,153.6 811.2,160.0" fill="#8f2c12"/>
<polygon points="822.9,149.6 848.7,158.4 838.7,158.9 823.2,153.6" fill="#a83616"/>
<polygon points="811.2,160.0 823.2,153.6 838.7,158.9 824.2,166.4" fill="#cf5424"/>
<polygon points="829.7,146.6 855.5,155.4 879.7,144.4 853.9,135.6" fill="#c2431c"/>
<polygon points="829.7,146.6 853.9,135.6 854.2,139.6 842.2,146.0" fill="#8f2c12"/>
<polygon points="853.9,135.6 879.7,144.4 869.7,144.9 854.2,139.6" fill="#a83616"/>
<polygon points="842.2,146.0 854.2,139.6 869.7,144.9 855.2,152.4" fill="#cf5424"/>
<polygon points="738.7,213.9 764.5,222.7 788.7,211.7 762.9,202.9" fill="#c2431c"/>
<polygon points="738.7,213.9 762.9,202.9 763.2,206.9 751.2,213.3" fill="#8f2c12"/>
<polygon points="762.9,202.9 788.7,211.7 778.7,212.2 763.2,206.9" fill="#a83616"/>
<polygon points="751.2,213.3 763.2,206.9 778.7,212.2 764.2,219.7" fill="#cf5424"/>
<polygon points="769.7,199.9 795.5,208.7 819.7,197.7 793.9,188.9" fill="#c2431c"/>
<polygon points="769.7,199.9 793.9,188.9 794.2,192.9 782.2,199.3" fill="#8f2c12"/>
<polygon points="793.9,188.9 819.7,197.7 809.7,198.2 794.2,192.9" fill="#a83616"/>
<polygon points="782.2,199.3 794.2,192.9 809.7,198.2 795.2,205.7" fill="#cf5424"/>
<polygon points="800.7,185.9 826.5,194.7 850.7,183.7 824.9,174.9" fill="#c2431c"/>
<polygon points="800.7,185.9 824.9,174.9 825.2,178.9 813.2,185.3" fill="#8f2c12"/>
<polygon points="824.9,174.9 850.7,183.7 840.7,184.2 825.2,178.9" fill="#a83616"/>
<polygon points="813.2,185.3 825.2,178.9 840.7,184.2 826.2,191.7" fill="#cf5424"/>
<polygon points="831.7,171.9 857.5,180.7 881.7,169.7 855.9,160.9" fill="#c2431c"/>
<polygon points="831.7,171.9 855.9,160.9 856.2,164.9 844.2,171.3" fill="#8f2c12"/>
<polygon points="855.9,160.9 881.7,169.7 871.7,170.2 856.2,164.9" fill="#a83616"/>
<polygon points="844.2,171.3 856.2,164.9 871.7,170.2 857.2,177.7" fill="#cf5424"/>
<polygon points="862.7,157.9 888.5,166.7 912.7,155.7 886.9,146.9" fill="#c2431c"/>
<polygon points="862.7,157.9 886.9,146.9 887.2,150.9 875.2,157.3" fill="#8f2c12"/>
<polygon points="886.9,146.9 912.7,155.7 902.7,156.2 887.2,150.9" fill="#a83616"/>
<polygon points="875.2,157.3 887.2,150.9 902.7,156.2 888.2,163.7" fill="#cf5424"/>
<polygon points="771.7,225.2 797.5,234.0 821.7,223.0 795.9,214.2" fill="#c2431c"/>
<polygon points="771.7,225.2 795.9,214.2 796.2,218.2 784.2,224.6" fill="#8f2c12"/>
<polygon points="795.9,214.2 821.7,223.0 811.7,223.5 796.2,218.2" fill="#a83616"/>
<polygon points="784.2,224.6 796.2,218.2 811.7,223.5 797.2,231.0" fill="#cf5424"/>
<polygon points="802.7,211.2 828.5,220.0 852.7,209.0 826.9,200.2" fill="#c2431c"/>
<polygon points="802.7,211.2 826.9,200.2 827.2,204.2 815.2,210.6" fill="#8f2c12"/>
<polygon points="826.9,200.2 852.7,209.0 842.7,209.5 827.2,204.2" fill="#a83616"/>
<polygon points="815.2,210.6 827.2,204.2 842.7,209.5 828.2,217.0" fill="#cf5424"/>
<polygon points="833.7,197.2 859.5,206.0 883.7,195.0 857.9,186.2" fill="#c2431c"/>
<polygon points="833.7,197.2 857.9,186.2 858.2,190.2 846.2,196.6" fill="#8f2c12"/>
<polygon points="857.9,186.2 883.7,195.0 873.7,195.5 858.2,190.2" fill="#a83616"/>
<polygon points="846.2,196.6 858.2,190.2 873.7,195.5 859.2,203.0" fill="#cf5424"/>
<polygon points="864.7,183.2 890.5,192.0 914.7,181.0 888.9,172.2" fill="#c2431c"/>
<polygon points="864.7,183.2 888.9,172.2 889.2,176.2 877.2,182.6" fill="#8f2c12"/>
<polygon points="888.9,172.2 914.7,181.0 904.7,181.5 889.2,176.2" fill="#a83616"/>
<polygon points="877.2,182.6 889.2,176.2 904.7,181.5 890.2,189.0" fill="#cf5424"/>
</g>
<!-- syrup on W1 front -->
<path d="M648,205 C660,198 682,194 697,198 C703,203 698,211 689,216 C680,221 674,227 671,235 C669,241 668,247 667,253 L656,253 C653,240 648,223 648,205 Z" fill="#e07628" opacity="0.9"/>
<path d="M653,212 C660,206 672,202 684,201" stroke="#f6b77c" stroke-width="1.2" fill="none" opacity="0.8"/>
<path d="M746,207 C749,215 745,223 739,231 C733,239 730,246 728,254 L714,254 C711,245 712,236 716,228 C722,218 733,210 746,207 Z" fill="#df7428" opacity="0.92"/>
<path d="M849,207 C858,203 873,204 881,210 C885,218 882,228 878,236 C877,239 877,241 877,243 L868,243 C866,236 862,228 857,221 C852,215 849,211 849,207 Z" fill="#de7128" opacity="0.9"/>
<!-- streams -->
<path d="M656,250 C657,268 656,288 657,304 L665,305 C665,288 666,268 667,250 Z" fill="#dc6c26" opacity="0.92"/>
<path d="M660,252 C661,270 660,290 661,302" stroke="#f8c79a" stroke-width="1.1" fill="none" opacity="0.85"/>
<path d="M714,250 C716,270 714,295 714,318 L728,318 C727,295 727,270 728,250 Z" fill="#dc6c26" opacity="0.92"/>
<path d="M718,255 C719,275 718,298 718,316" stroke="#f8c79a" stroke-width="1.2" fill="none" opacity="0.85"/>
<path d="M868,240 C869,262 870,290 869,314 L876,315 C876,290 876,262 877,240 Z" fill="#d9692a" opacity="0.92"/>
<path d="M871,246 C872,268 872.5,292 872,312" stroke="#f8d2b0" stroke-width="1" fill="none" opacity="0.9"/>
<!-- puddles -->
<ellipse cx="660.8" cy="311.2" rx="12.5" ry="7.2" fill="#cf5a26"/>
<ellipse cx="659.5" cy="309.8" rx="8.5" ry="4.2" fill="#e57537" opacity="0.85"/>
<ellipse cx="718.8" cy="329.5" rx="31" ry="15.5" fill="#cf5a26"/>
<ellipse cx="716.5" cy="327.5" rx="24" ry="10.5" fill="#e57537" opacity="0.75"/>
<ellipse cx="721" cy="324" rx="8" ry="7" fill="#c44d20"/>
<ellipse cx="870.3" cy="322.7" rx="27" ry="12.7" fill="#cf5a26"/>
<ellipse cx="868.5" cy="320.8" rx="20" ry="8.5" fill="#e57537" opacity="0.75"/>
<ellipse cx="872.5" cy="316" rx="4.5" ry="4" fill="#c44d20"/>
</svg>

<svg width="1280" height="720" viewBox="0 0 1280 720" style="position:absolute;left:0;top:0">
<!-- cover -->
<path d="M625.5,509.5 L629,506 L760,592 L842,544 L922,491 L927.5,494 L928,498 L846,549 L843,551.5 L838,551.5 L760,599.5 Z" fill="#c9335b"/>
<!-- left page block side -->
<path d="M630.5,500.5 L760,580 C768,572 776,566 783,559 C791,551 798,542 806,536 C814,530 822,527 829,527 L842,526 L842,548 L760,595 L630.5,509.5 Z" fill="#c8d6cd"/>
<!-- right page block side -->
<path d="M842,526 C855,518 880,508 900,500 L920.5,491 L920.5,502 C900,512 870,528 842,548 Z" fill="#c8d6cd"/>
<!-- left page surface -->
<path d="M630.5,500.5 C645,494 652,490 665,482 C685,468 700,456 712,454 L722,453 L842,522 L842,526 L829,527 C822,527 814,530 806,536 C798,542 791,551 783,559 C776,566 768,572 760,580 Z" fill="#e3eed8"/>
<!-- right page surface -->
<path d="M842,526 C855,518 880,508 900,500 L920.5,490.5 L872,460 L850,452 L842,500 Z" fill="#e3eed8"/>
<!-- raised page -->
<path d="M747.5,365 L887.5,432.5 C882,444 872,460 864,474 C855,490 847,508 842,526 L720.8,455 C719,440 720,420 724,408 C728,396 738,380 747.5,365 Z" fill="#c3d0c9"/>
<!-- spine line -->
<path d="M842,526 L842,548" stroke="#aab8b0" stroke-width="0.8"/>
<!-- ribbon -->
<path d="M846.5,525.5 C850,532 856,536 857,541 C858,545 858.5,548 859.5,552" stroke="#111" stroke-width="2.4" fill="none" stroke-linecap="round"/>
</svg>

<div class="bar" style="left:164.2px;top:152.8px;height:147.2px"></div><div class="bar" style="left:213.4px;top:171.2px;height:128.8px"></div><div class="bar" style="left:262.9px;top:180.9px;height:119.1px"></div><div class="bar" style="left:312.2px;top:214.2px;height:85.8px"></div><div class="bar" style="left:361.7px;top:243.8px;height:56.2px"></div><div class="bar" style="left:411.2px;top:263.5px;height:36.5px"></div><div class="bar" style="left:460.5px;top:266.7px;height:33.3px"></div><div class="bar" style="left:509.7px;top:266.9px;height:33.1px"></div><div class="bar" style="left:559.0px;top:276.2px;height:23.8px"></div><div class="bar" style="left:608.0px;top:280.1px;height:19.9px"></div>
<div class="hdr"></div>
<div class="src"></div>
<div class="t" style="left:48.80px;top:150.00px;font-size:24.42px;line-height:24.42px;font-weight:700;color:#1c5a7d;letter-spacing:0.04em;-webkit-text-stroke:0.6px currentColor;transform:scaleX(0.6454)">TOP WHEAT</div>
<div class="t" style="left:43.12px;top:174.20px;font-size:23.69px;line-height:23.69px;font-weight:700;color:#1c5a7d;letter-spacing:0.04em;-webkit-text-stroke:0.6px currentColor;transform:scaleX(0.6788)">PRODUCING</div>
<div class="t" style="left:48.73px;top:197.30px;font-size:23.69px;line-height:23.69px;font-weight:700;color:#1c5a7d;letter-spacing:0.04em;-webkit-text-stroke:0.6px currentColor;transform:scaleX(0.6678)">COUNTRIES</div>
<div class="t" style="left:106.89px;top:227.80px;font-size:19.48px;line-height:19.48px;font-weight:400;color:#262626;letter-spacing:0.06em;-webkit-text-stroke:0.25px currentColor;transform:scaleX(0.6125)">MMT =</div>
<div class="t" style="left:64.64px;top:248.60px;font-size:18.9px;line-height:18.9px;font-weight:400;color:#262626;letter-spacing:0.06em;-webkit-text-stroke:0.25px currentColor;transform:scaleX(0.6565)">Million Metric</div>
<div class="t" style="left:105.80px;top:266.00px;font-size:19.62px;line-height:19.62px;font-weight:400;color:#262626;letter-spacing:0.06em;-webkit-text-stroke:0.25px currentColor;transform:scaleX(0.5928)">Tonnes</div>
<div class="t" style="left:87.28px;top:313.90px;font-size:13.66px;line-height:13.66px;font-weight:400;color:#6a6a6a;letter-spacing:0.06em;-webkit-text-stroke:0.25px currentColor;transform:scaleX(0.5154)">SOURCE:</div>
<div class="t" style="left:124.00px;top:313.90px;font-size:13.66px;line-height:13.66px;font-weight:700;color:#1a1a1a;letter-spacing:0.04em;-webkit-text-stroke:0.6px currentColor;transform:scaleX(0.5650)">USDA</div>
<div class="t" style="left:238.17px;top:406.80px;font-size:24.71px;line-height:24.71px;font-weight:700;color:#ffffff;letter-spacing:0.04em;-webkit-text-stroke:0.6px currentColor;transform:scaleX(0.6286)">FLOUR GRADES BY COST</div>
<div class="t" style="left:146.30px;top:439.80px;font-size:19.77px;line-height:19.77px;font-weight:400;color:#262626;letter-spacing:0.06em;-webkit-text-stroke:0.25px currentColor;transform:scaleX(0.6159)">Average Retail Prices of Wheat Flour in Bangladesh (2023-2024)</div>
<div class="t" style="left:41.85px;top:482.80px;font-size:18.75px;line-height:18.75px;font-weight:400;color:#262626;letter-spacing:0.06em;-webkit-text-stroke:0.25px currentColor;transform:scaleX(0.6494)">Category</div>
<div class="t" style="left:236.37px;top:472.90px;font-size:18.9px;line-height:18.9px;font-weight:400;color:#262626;letter-spacing:0.06em;-webkit-text-stroke:0.25px currentColor;transform:scaleX(0.6339)">Packed Atta</div>
<div class="t" style="left:245.11px;top:493.30px;font-size:17.88px;line-height:17.88px;font-weight:400;color:#262626;letter-spacing:0.06em;-webkit-text-stroke:0.25px currentColor;transform:scaleX(0.6948)">(BDT/kg)</div>
<div class="t" style="left:329.66px;top:473.20px;font-size:18.9px;line-height:18.9px;font-weight:400;color:#262626;letter-spacing:0.06em;-webkit-text-stroke:0.25px currentColor;transform:scaleX(0.6449)">Unpacked Atta</div>
<div class="t" style="left:346.30px;top:493.30px;font-size:17.88px;line-height:17.88px;font-weight:400;color:#262626;letter-spacing:0.06em;-webkit-text-stroke:0.25px currentColor;transform:scaleX(0.7039)">(BDT/kg)</div>
<div class="t" style="left:439.27px;top:473.20px;font-size:18.9px;line-height:18.9px;font-weight:400;color:#262626;letter-spacing:0.06em;-webkit-text-stroke:0.25px currentColor;transform:scaleX(0.6250)">Packed Maida</div>
<div class="t" style="left:453.30px;top:493.30px;font-size:17.88px;line-height:17.88px;font-weight:400;color:#262626;letter-spacing:0.06em;-webkit-text-stroke:0.25px currentColor;transform:scaleX(0.7039)">(BDT/kg)</div>
<div class="t" style="left:543.66px;top:473.20px;font-size:18.9px;line-height:18.9px;font-weight:400;color:#262626;letter-spacing:0.06em;-webkit-text-stroke:0.25px currentColor;transform:scaleX(0.6359)">Unpacked Maida</div>
<div class="t" style="left:566.30px;top:493.30px;font-size:17.88px;line-height:17.88px;font-weight:400;color:#262626;letter-spacing:0.06em;-webkit-text-stroke:0.25px currentColor;transform:scaleX(0.7013)">(BDT/kg)</div>
<div class="t" style="left:41.82px;top:520.30px;font-size:18.75px;line-height:18.75px;font-weight:400;color:#262626;letter-spacing:0.06em;-webkit-text-stroke:0.25px currentColor;transform:scaleX(0.6841)">Price (2023)</div>
<div class="t" style="left:253.37px;top:520.30px;font-size:18.9px;line-height:18.9px;font-weight:400;color:#262626;letter-spacing:0.06em;-webkit-text-stroke:0.25px currentColor;transform:scaleX(0.7260)">66.09</div>
<div class="t" style="left:360.01px;top:520.30px;font-size:18.9px;line-height:18.9px;font-weight:400;color:#262626;letter-spacing:0.06em;-webkit-text-stroke:0.25px currentColor;transform:scaleX(0.6872)">57.5</div>
<div class="t" style="left:463.70px;top:520.30px;font-size:18.9px;line-height:18.9px;font-weight:400;color:#262626;letter-spacing:0.06em;-webkit-text-stroke:0.25px currentColor;transform:scaleX(0.6960)">76.32</div>
<div class="t" style="left:574.45px;top:520.30px;font-size:18.9px;line-height:18.9px;font-weight:400;color:#262626;letter-spacing:0.06em;-webkit-text-stroke:0.25px currentColor;transform:scaleX(0.7480)">65.05</div>
<div class="t" style="left:41.82px;top:545.60px;font-size:18.75px;line-height:18.75px;font-weight:400;color:#262626;letter-spacing:0.06em;-webkit-text-stroke:0.25px currentColor;transform:scaleX(0.6841)">Price (2024)</div>
<div class="t" style="left:258.10px;top:545.60px;font-size:18.9px;line-height:18.9px;font-weight:400;color:#262626;letter-spacing:0.06em;-webkit-text-stroke:0.25px currentColor;transform:scaleX(0.7026)">57.5</div>
<div class="t" style="left:360.70px;top:545.60px;font-size:18.9px;line-height:18.9px;font-weight:400;color:#262626;letter-spacing:0.06em;-webkit-text-stroke:0.25px currentColor;transform:scaleX(0.6700)">47.5</div>
<div class="t" style="left:467.51px;top:545.60px;font-size:18.9px;line-height:18.9px;font-weight:400;color:#262626;letter-spacing:0.06em;-webkit-text-stroke:0.25px currentColor;transform:scaleX(0.6949)">72.5</div>
<div class="t" style="left:578.35px;top:545.60px;font-size:18.9px;line-height:18.9px;font-weight:400;color:#262626;letter-spacing:0.06em;-webkit-text-stroke:0.25px currentColor;transform:scaleX(0.7462)">62.5</div>
<div class="t" style="left:41.87px;top:570.30px;font-size:18.9px;line-height:18.9px;font-weight:400;color:#262626;letter-spacing:0.06em;-webkit-text-stroke:0.25px currentColor;transform:scaleX(0.6314)">Changes in a Year (%)</div>
<div class="t" style="left:262.08px;top:570.30px;font-size:18.9px;line-height:18.9px;font-weight:400;color:#262626;letter-spacing:0.06em;-webkit-text-stroke:0.25px currentColor;transform:scaleX(0.7214)">-13</div>
<div class="t" style="left:358.03px;top:570.30px;font-size:18.9px;line-height:18.9px;font-weight:400;color:#262626;letter-spacing:0.06em;-webkit-text-stroke:0.25px currentColor;transform:scaleX(0.6717)">-17.3</div>
<div class="t" style="left:473.94px;top:570.30px;font-size:18.9px;line-height:18.9px;font-weight:400;color:#262626;letter-spacing:0.06em;-webkit-text-stroke:0.25px currentColor;transform:scaleX(0.7588)">-5</div>
<div class="t" style="left:580.16px;top:570.30px;font-size:18.9px;line-height:18.9px;font-weight:400;color:#262626;letter-spacing:0.06em;-webkit-text-stroke:0.25px currentColor;transform:scaleX(0.7441)">-3.9</div>
<div class="t" style="left:241.93px;top:602.80px;font-size:12.5px;line-height:12.5px;font-weight:400;color:#a8dccd;letter-spacing:0.06em;-webkit-text-stroke:0.25px currentColor;transform:scaleX(0.5667)">SOURCE:</div>
<div class="t" style="left:279.60px;top:602.80px;font-size:12.5px;line-height:12.5px;font-weight:700;color:#ffffff;letter-spacing:0.04em;-webkit-text-stroke:0.6px currentColor;transform:scaleX(0.6328)">TRADING CORPORATION BANGLADESH</div>
<div class="t" style="left:922.26px;top:170.80px;font-size:19.91px;line-height:19.91px;font-weight:700;color:#0b5445;letter-spacing:0.04em;-webkit-text-stroke:0.6px currentColor;transform:scaleX(0.6449)">FLOUR’S CULINARY EXPLOSION:</div>
<div class="t" style="left:923.78px;top:190.00px;font-size:19.91px;line-height:19.91px;font-weight:700;color:#0b5445;letter-spacing:0.04em;-webkit-text-stroke:0.6px currentColor;transform:scaleX(0.6238)">NEW TASTES, NEW USES</div>
<div class="t" style="left:924.10px;top:215.80px;font-size:19.33px;line-height:19.33px;font-weight:400;color:#262626;letter-spacing:0.06em;-webkit-text-stroke:0.25px currentColor;transform:scaleX(0.6090)">The way we consume wheat flour has seen an</div>
<div class="t" style="left:923.48px;top:234.40px;font-size:19.33px;line-height:19.33px;font-weight:400;color:#262626;letter-spacing:0.06em;-webkit-text-stroke:0.25px currentColor;transform:scaleX(0.6187)">incredible expansion. Along with wheat becoming a</div>
<div class="t" style="left:925.00px;top:253.20px;font-size:19.33px;line-height:19.33px;font-weight:400;color:#262626;letter-spacing:0.06em;-webkit-text-stroke:0.25px currentColor;transform:scaleX(0.6120)">staple in our diet, specialised baking such as crispy</div>
<div class="t" style="left:925.00px;top:272.60px;font-size:19.33px;line-height:19.33px;font-weight:400;color:#262626;letter-spacing:0.06em;-webkit-text-stroke:0.25px currentColor;transform:scaleX(0.6155)">waffles, dumplings, and countless street snacks.</div>
<div class="t" style="left:918.80px;top:291.20px;font-size:19.33px;line-height:19.33px;font-weight:400;color:#262626;letter-spacing:0.06em;-webkit-text-stroke:0.25px currentColor;transform:scaleX(0.6228)">This global trend highlights flour’s continued growth</div>
<div class="t" style="left:910.98px;top:309.80px;font-size:19.33px;line-height:19.33px;font-weight:400;color:#262626;letter-spacing:0.06em;-webkit-text-stroke:0.25px currentColor;transform:scaleX(0.6177)">as an adaptable ingredient that shapes modern eating</div>
<div class="t" style="left:910.18px;top:328.40px;font-size:19.33px;line-height:19.33px;font-weight:400;color:#262626;letter-spacing:0.06em;-webkit-text-stroke:0.25px currentColor;transform:scaleX(0.6173)">habits both locally and worldwide.</div>
<div class="t" style="left:902.04px;top:418.30px;font-size:19.91px;line-height:19.91px;font-weight:700;color:#1e5573;letter-spacing:0.04em;-webkit-text-stroke:0.6px currentColor;transform:scaleX(0.6556)">DID YOU KNOW?</div>
<div class="t" style="left:901.51px;top:443.20px;font-size:19.33px;line-height:19.33px;font-weight:400;color:#262626;letter-spacing:0.06em;-webkit-text-stroke:0.25px currentColor;transform:scaleX(0.5943)">In our country, posters are everywhere, especially during</div>
<div class="t" style="left:927.81px;top:461.00px;font-size:19.33px;line-height:19.33px;font-weight:400;color:#262626;letter-spacing:0.06em;-webkit-text-stroke:0.25px currentColor;transform:scaleX(0.5947)">elections. To stick these posters onto the walls,</div>
<div class="t" style="left:938.80px;top:478.60px;font-size:19.33px;line-height:19.33px;font-weight:400;color:#262626;letter-spacing:0.06em;-webkit-text-stroke:0.25px currentColor;transform:scaleX(0.5998)">“Lahi”, a paste made from wheat flour, is used.</div>
<div class="t" style="left:937.60px;top:496.80px;font-size:19.33px;line-height:19.33px;font-weight:400;color:#262626;letter-spacing:0.06em;-webkit-text-stroke:0.25px currentColor;transform:scaleX(0.5988)">It’s the cheapest and most trusted choice for mass</div>
<div class="t" style="left:929.91px;top:515.40px;font-size:19.33px;line-height:19.33px;font-weight:400;color:#262626;letter-spacing:0.06em;-webkit-text-stroke:0.25px currentColor;transform:scaleX(0.5873)">postering. Lahi is used in book binding, too. Along</div>
<div class="t" style="left:902.70px;top:533.70px;font-size:19.33px;line-height:19.33px;font-weight:400;color:#262626;letter-spacing:0.06em;-webkit-text-stroke:0.25px currentColor;transform:scaleX(0.5957)">with other ingredients like glue, copper, wheat and flour</div>
<div class="t" style="left:902.12px;top:552.00px;font-size:19.33px;line-height:19.33px;font-weight:400;color:#262626;letter-spacing:0.06em;-webkit-text-stroke:0.25px currentColor;transform:scaleX(0.5828)">paste is also used to make an adhesive. Thus, from walls to</div>
<div class="t" style="left:902.10px;top:570.10px;font-size:19.33px;line-height:19.33px;font-weight:400;color:#262626;letter-spacing:0.06em;-webkit-text-stroke:0.25px currentColor;transform:scaleX(0.5958)">pages, wheat finds its way into more than just our meals!</div>
<div class="t" style="left:0;top:0;font-size:27.62px;line-height:27.62px;font-weight:700;color:#ffffff;letter-spacing:0.04em;-webkit-text-stroke:0.6px currentColor;transform:translate(168.50px,194.08px) rotate(-90deg) scaleX(0.6809)">140</div>
<div class="t" style="left:0;top:0;font-size:26.89px;line-height:26.89px;font-weight:700;color:#ffffff;letter-spacing:0.04em;-webkit-text-stroke:0.6px currentColor;transform:translate(219.00px,226.96px) rotate(-90deg) scaleX(0.6643)">122.6</div>
<div class="t" style="left:0;top:0;font-size:27.18px;line-height:27.18px;font-weight:700;color:#ffffff;letter-spacing:0.04em;-webkit-text-stroke:0.6px currentColor;transform:translate(267.00px,237.89px) rotate(-90deg) scaleX(0.6913)">113.3</div>
<div class="t" style="left:0;top:0;font-size:27.33px;line-height:27.33px;font-weight:700;color:#ffffff;letter-spacing:0.04em;-webkit-text-stroke:0.6px currentColor;transform:translate(316.40px,260.00px) rotate(-90deg) scaleX(0.6518)">81.5</div>
<div class="t" style="left:0;top:0;font-size:27.03px;line-height:27.03px;font-weight:700;color:#ffffff;letter-spacing:0.04em;-webkit-text-stroke:0.6px currentColor;transform:translate(366.60px,288.00px) rotate(-90deg) scaleX(0.6473)">53.7</div>
<div class="t" style="left:0;top:0;font-size:26.45px;line-height:26.45px;font-weight:700;color:#1b5878;letter-spacing:0.04em;-webkit-text-stroke:0.6px currentColor;transform:translate(415.50px,254.20px) rotate(-90deg) scaleX(0.7100)">35</div>
<div class="t" style="left:0;top:0;font-size:26.45px;line-height:26.45px;font-weight:700;color:#1b5878;letter-spacing:0.04em;-webkit-text-stroke:0.6px currentColor;transform:translate(465.00px,257.20px) rotate(-90deg) scaleX(0.6933)">32</div>
<div class="t" style="left:0;top:0;font-size:26.6px;line-height:26.6px;font-weight:700;color:#1b5878;letter-spacing:0.04em;-webkit-text-stroke:0.6px currentColor;transform:translate(514.60px,257.20px) rotate(-90deg) scaleX(0.6691)">31.4</div>
<div class="t" style="left:0;top:0;font-size:26.31px;line-height:26.31px;font-weight:700;color:#1b5878;letter-spacing:0.04em;-webkit-text-stroke:0.6px currentColor;transform:translate(563.60px,267.00px) rotate(-90deg) scaleX(0.6963)">22.9</div>
<div class="t" style="left:0;top:0;font-size:26.16px;line-height:26.16px;font-weight:700;color:#1b5878;letter-spacing:0.04em;-webkit-text-stroke:0.6px currentColor;transform:translate(613.00px,269.68px) rotate(-90deg) scaleX(0.6794)">18.75</div>
<div class="t" style="left:0;top:0;font-size:22.29px;line-height:22.29px;font-weight:400;color:#262626;letter-spacing:0.06em;-webkit-text-stroke:0.25px currentColor;transform:translate(171.60px,350.13px) rotate(-90deg) scaleX(0.5286)">China</div>
<div class="t" style="left:0;top:0;font-size:20.0px;line-height:20.0px;font-weight:400;color:#262626;letter-spacing:0.06em;-webkit-text-stroke:0.25px currentColor;transform:translate(220.80px,332.16px) rotate(-90deg) scaleX(0.5556)">EU</div>
<div class="t" style="left:0;top:0;font-size:21.43px;line-height:21.43px;font-weight:400;color:#262626;letter-spacing:0.06em;-webkit-text-stroke:0.25px currentColor;transform:translate(270.50px,345.10px) rotate(-90deg) scaleX(0.5480)">India</div>
<div class="t" style="left:0;top:0;font-size:21.43px;line-height:21.43px;font-weight:400;color:#262626;letter-spacing:0.06em;-webkit-text-stroke:0.25px currentColor;transform:translate(320.20px,355.85px) rotate(-90deg) scaleX(0.5451)">Russia</div>
<div class="t" style="left:0;top:0;font-size:20.43px;line-height:20.43px;font-weight:400;color:#262626;letter-spacing:0.06em;-webkit-text-stroke:0.25px currentColor;transform:translate(368.30px,351.55px) rotate(-90deg) scaleX(0.5460)">U.S.A.</div>
<div class="t" style="left:0;top:0;font-size:22.29px;line-height:22.29px;font-weight:400;color:#262626;letter-spacing:0.06em;-webkit-text-stroke:0.25px currentColor;transform:translate(418.10px,360.11px) rotate(-90deg) scaleX(0.5119)">Canada</div>
<div class="t" style="left:0;top:0;font-size:21.71px;line-height:21.71px;font-weight:400;color:#262626;letter-spacing:0.06em;-webkit-text-stroke:0.25px currentColor;transform:translate(467.50px,368.80px) rotate(-90deg) scaleX(0.5495)">Australia</div>
<div class="t" style="left:0;top:0;font-size:22.29px;line-height:22.29px;font-weight:400;color:#262626;letter-spacing:0.06em;-webkit-text-stroke:0.25px currentColor;transform:translate(516.80px,368.50px) rotate(-90deg) scaleX(0.5522)">Pakistan</div>
<div class="t" style="left:0;top:0;font-size:21.71px;line-height:21.71px;font-weight:400;color:#262626;letter-spacing:0.06em;-webkit-text-stroke:0.25px currentColor;transform:translate(565.60px,362.66px) rotate(-90deg) scaleX(0.5617)">Ukraine</div>
<div class="t" style="left:0;top:0;font-size:20.43px;line-height:20.43px;font-weight:400;color:#262626;letter-spacing:0.06em;-webkit-text-stroke:0.25px currentColor;transform:translate(614.80px,356.60px) rotate(-90deg) scaleX(0.5882)">Turkey</div>
</body></html>
